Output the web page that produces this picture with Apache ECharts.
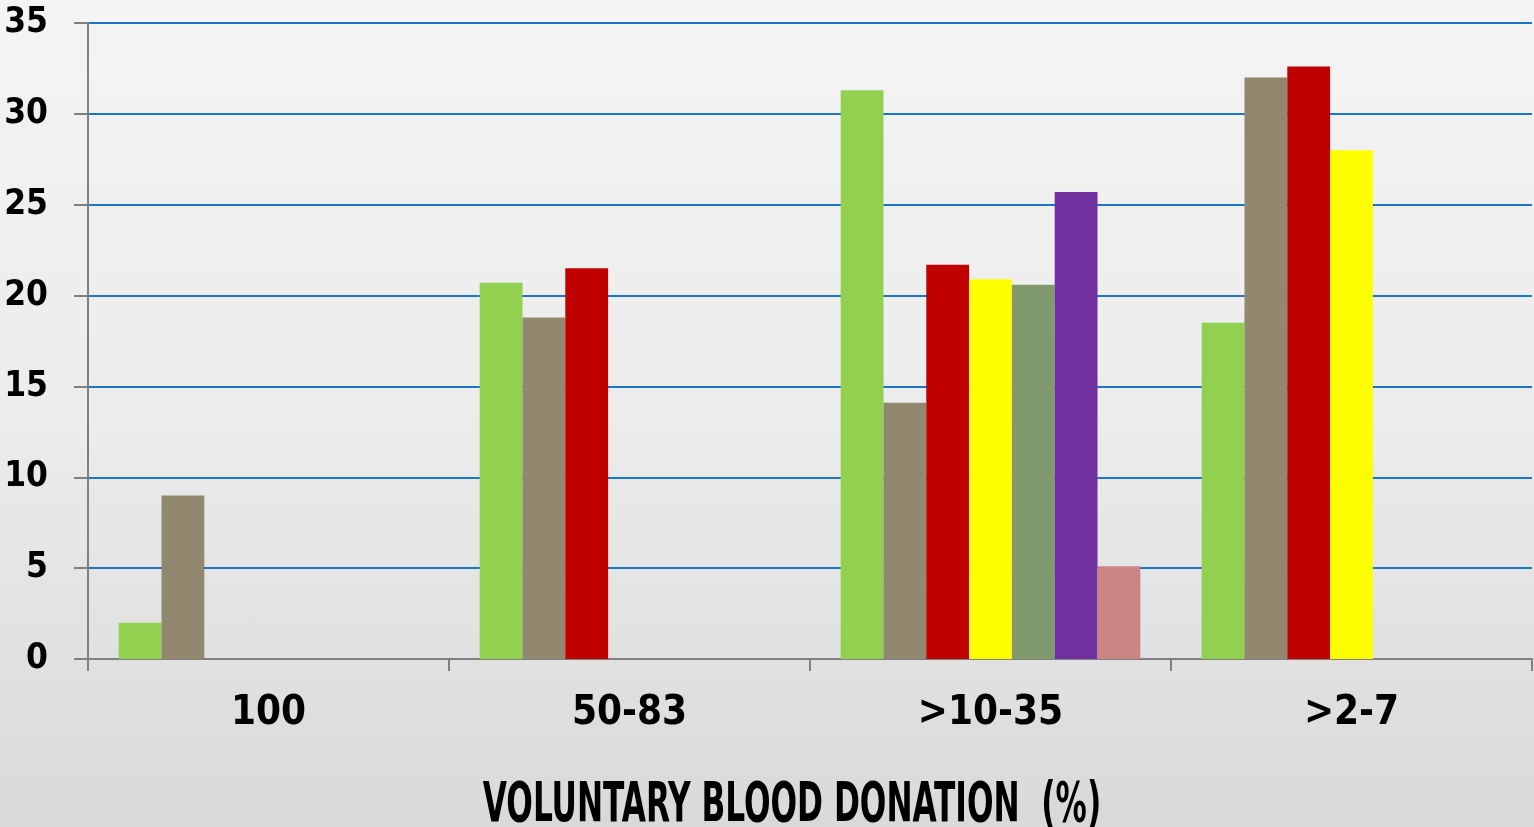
<!DOCTYPE html>
<html>
<head>
<meta charset="utf-8">
<title>Voluntary blood donation</title>
<script src="https://cdn.jsdelivr.net/npm/echarts@6/dist/echarts.min.js"></script>
<style>
    html, body {
        margin: 0;
        padding: 0;
        width: 100%;
        height: 100%;
        background: linear-gradient(to bottom, #f4f4f4 0%, #ececec 50%, #d9d9d9 100%);
    }
    #chart {
        width: 1534px;
        height: 827px;
    }
</style>
</head>
<body>
<div id="chart"></div>
<script>
// categories on the x axis
const categories = ['100', '50-83', '>10-35', '>2-7'];

// one array per coloured series, null where a bar is missing
const seriesNames = ['S1', 'S2', 'S3', 'S4', 'S5', 'S6', 'S7'];
const s1 = [2.0, 20.7, 31.3, 18.5];
const s2 = [9.0, 18.8, 14.1, 32.0];
const s3 = [null, 21.5, 21.7, 32.6];
const s4 = [null, null, 20.9, 28.0];
const s5 = [null, null, 20.6, null];
const s6 = [null, null, 25.7, null];
const s7 = [null, null, 5.1, null];
const seriesValues = [s1, s2, s3, s4, s5, s6, s7];

const colors = ['#92D050', '#928870', '#C00000', '#FFFF00', '#809A6E', '#7030A0', '#CA8584'];

const fontFace = '"DejaVu Sans Condensed", "Liberation Sans Narrow", "Liberation Sans", sans-serif';

const myChart = echarts.init(document.getElementById('chart'));

const option = {
    backgroundColor: 'transparent',
    animation: false,
    grid: {
        left: 88,
        right: 2,
        top: 23,
        bottom: 168,
        containLabel: false,
        outerBoundsMode: 'none'
    },
    xAxis: {
        type: 'category',
        data: categories,
        axisLine: {lineStyle: {color: '#808080', width: 2}},
        axisTick: {show: true, length: 12, lineStyle: {color: '#808080', width: 2}},
        axisLabel: {
            margin: 35,
            color: '#000',
            fontSize: 40,
            fontWeight: 'bold',
            fontFamily: fontFace
        }
    },
    yAxis: {
        type: 'value',
        min: 0,
        max: 35,
        interval: 5,
        axisLine: {show: true, lineStyle: {color: '#808080', width: 2}},
        axisTick: {show: true, length: 14, lineStyle: {color: '#808080', width: 2}},
        splitLine: {lineStyle: {color: '#1C76C8', width: 2}},
        axisLabel: {
            margin: 40,
            color: '#000',
            fontSize: 35,
            fontWeight: 'bold',
            fontFamily: fontFace
        }
    },
    graphic: [
        {
            type: 'text',
            x: 792,
            y: 778,
            scaleX: 0.62,
            style: {
                text: 'VOLUNTARY BLOOD DONATION  (%)',
                fill: '#000',
                textAlign: 'center',
                textVerticalAlign: 'top',
                font: 'bold 56px ' + fontFace
            }
        }
    ],
    series: seriesValues.map(function (vals, i) {
        return {
            name: seriesNames[i],
            type: 'bar',
            data: vals,
            barGap: '0%',
            barCategoryGap: '17%',
            itemStyle: {color: colors[i]}
        };
    })
};

option && myChart.setOption(option);
</script>
</body>
</html>
